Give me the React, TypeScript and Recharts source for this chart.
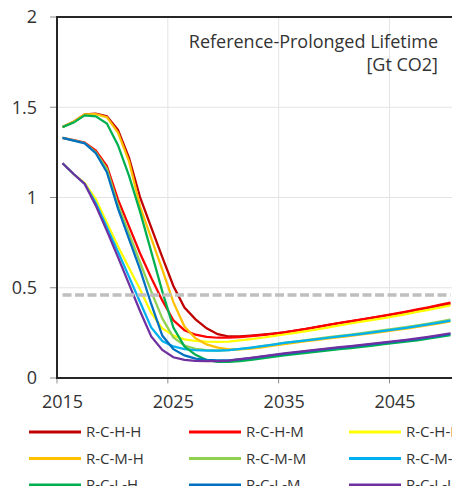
import React from 'react'
import {
  LineChart,
  Line,
  XAxis,
  YAxis,
  CartesianGrid,
  ReferenceLine,
} from 'recharts'

const FONT = '"Open Sans", "Noto Sans", sans-serif'
const INK = '#333333'
const FRAME = '#262626'

const YEARS = Array.from({ length: 36 }, (_, i) => 2015 + i)
const X_TICKS = [2015, 2025, 2035, 2045]
const Y_TICKS = [0, 0.5, 1, 1.5, 2]
// category boundaries (gridlines and tick marks sit between the years)
const X_EDGES = [2014.5, 2024.5, 2034.5, 2044.5]
const X_MIN = 2014.5
const X_MAX = 2050.5
const TARGET = 0.46

// emissions [Gt CO2], 2015..2050
const R_C_H_H = [
  1.39, 1.42, 1.46, 1.465, 1.45, 1.375, 1.22, 1.0, 0.835, 0.67, 0.51, 0.39, 0.325, 0.275, 0.243, 0.23,
  0.231, 0.235, 0.24, 0.246, 0.253, 0.262, 0.272, 0.283, 0.294, 0.304, 0.314, 0.324, 0.334, 0.344, 0.354, 0.365, 0.376, 0.388, 0.4, 0.412,
]
const R_C_H_M = [
  1.33, 1.318, 1.305, 1.26, 1.175, 0.99, 0.84, 0.69, 0.555, 0.43, 0.32, 0.265, 0.24, 0.228, 0.223, 0.224,
  0.227, 0.232, 0.238, 0.245, 0.253, 0.262, 0.272, 0.283, 0.294, 0.305, 0.315, 0.325, 0.335, 0.346, 0.357, 0.368, 0.38, 0.392, 0.405, 0.418,
]
const R_C_H_L = [
  1.19, 1.13, 1.08, 0.99, 0.86, 0.73, 0.61, 0.49, 0.36, 0.275, 0.235, 0.214, 0.205, 0.201, 0.2, 0.202,
  0.208, 0.215, 0.223, 0.232, 0.241, 0.25, 0.26, 0.27, 0.281, 0.292, 0.302, 0.312, 0.322, 0.332, 0.343, 0.354, 0.366, 0.378, 0.39, 0.402,
]
const R_C_M_H = [
  1.39, 1.42, 1.46, 1.462, 1.445, 1.36, 1.2, 0.95, 0.775, 0.6, 0.42, 0.285, 0.22, 0.186, 0.168, 0.158,
  0.158, 0.163, 0.17, 0.179, 0.188, 0.196, 0.204, 0.211, 0.219, 0.226, 0.233, 0.241, 0.249, 0.257, 0.265, 0.274, 0.283, 0.293, 0.303, 0.313,
]
const R_C_M_M = [
  1.33, 1.317, 1.302, 1.25, 1.16, 0.96, 0.8, 0.64, 0.48, 0.33, 0.225, 0.18, 0.162, 0.155, 0.152, 0.154,
  0.16, 0.167, 0.176, 0.185, 0.194, 0.202, 0.21, 0.218, 0.226, 0.234, 0.241, 0.249, 0.257, 0.265, 0.273, 0.282, 0.292, 0.302, 0.313, 0.324,
]
const R_C_M_L = [
  1.19, 1.13, 1.075, 0.97, 0.835, 0.7, 0.56, 0.42, 0.28, 0.205, 0.175, 0.16, 0.154, 0.152, 0.152, 0.155,
  0.161, 0.168, 0.176, 0.185, 0.194, 0.201, 0.208, 0.215, 0.223, 0.23, 0.237, 0.245, 0.253, 0.261, 0.269, 0.278, 0.287, 0.297, 0.307, 0.318,
]
const R_C_L_H = [
  1.39, 1.415, 1.455, 1.45, 1.41, 1.29, 1.12, 0.92, 0.7, 0.48, 0.28, 0.175, 0.128, 0.1, 0.09, 0.089,
  0.094, 0.101, 0.109, 0.117, 0.125, 0.132, 0.139, 0.146, 0.153, 0.16, 0.166, 0.173, 0.18, 0.187, 0.194, 0.201, 0.209, 0.218, 0.228, 0.238,
]
const R_C_L_M = [
  1.33, 1.315, 1.3, 1.245, 1.14, 0.94, 0.77, 0.6, 0.41, 0.235, 0.16, 0.125, 0.107, 0.1, 0.097, 0.097,
  0.103, 0.11, 0.118, 0.126, 0.134, 0.141, 0.148, 0.155, 0.161, 0.168, 0.174, 0.181, 0.188, 0.194, 0.201, 0.208, 0.216, 0.225, 0.234, 0.244,
]
const R_C_L_L = [
  1.19, 1.13, 1.075, 0.955, 0.815, 0.67, 0.52, 0.37, 0.23, 0.155, 0.115, 0.1, 0.095, 0.093, 0.093, 0.096,
  0.104, 0.112, 0.12, 0.128, 0.136, 0.143, 0.15, 0.157, 0.164, 0.171, 0.177, 0.184, 0.191, 0.197, 0.204, 0.211, 0.219, 0.228, 0.238, 0.248,
]

const SERIES = [
  { name: 'R-C-H-H', color: '#C00000', values: R_C_H_H },
  { name: 'R-C-H-M', color: '#FF0000', values: R_C_H_M },
  { name: 'R-C-H-L', color: '#FFFF00', values: R_C_H_L },
  { name: 'R-C-M-H', color: '#FFC000', values: R_C_M_H },
  { name: 'R-C-M-M', color: '#92D050', values: R_C_M_M },
  { name: 'R-C-M-L', color: '#00B0F0', values: R_C_M_L },
  { name: 'R-C-L-H', color: '#00B050', values: R_C_L_H },
  { name: 'R-C-L-M', color: '#0070C0', values: R_C_L_M },
  { name: 'R-C-L-L', color: '#7030A0', values: R_C_L_L },
]

const rows = YEARS.map((year, i) => {
  const row: Record<string, number> = { year }
  SERIES.forEach((s) => {
    row[s.name] = s.values[i]
  })
  return row
})

// plot box inside the 460x448 chart
const PLOT = { left: 57, top: 17, right: 456, bottom: 378 }

const tickStyle = { fontSize: 18, fill: INK, fontFamily: FONT }

// three columns, filled row by row; the right column runs off the edge
function LegendGrid() {
  const colW = 160
  const rowH = 26.5
  return (
    <svg width={460} height={80} style={{ position: 'absolute', left: 0, top: 414 }}>
      {SERIES.map((s, i) => {
        const x = 29 + (i % 3) * colW
        const y = 18 + Math.floor(i / 3) * rowH
        return (
          <g key={s.name}>
            <line x1={x} x2={x + 52} y1={y} y2={y} stroke={s.color} strokeWidth={3} />
            <text x={x + 57} y={y} dy="0.36em" fontFamily={FONT} fontSize={15} fill={INK}>
              {s.name}
            </text>
          </g>
        )
      })}
    </svg>
  )
}

export default function App() {
  return (
    <div
      style={{
        position: 'relative',
        margin: -8,
        width: 460,
        height: 494,
        overflow: 'hidden',
        background: '#fff',
      }}
    >
      <LineChart
        width={460}
        height={448}
        data={rows}
        margin={{ top: PLOT.top, right: 460 - PLOT.right, left: 0, bottom: 0 }}
      >
        <CartesianGrid vertical={false} stroke="#e4e4e4" />
        {X_EDGES.slice(1).map((x) => (
          <ReferenceLine key={`g${x}`} x={x} stroke="#e4e4e4" />
        ))}
        <XAxis
          dataKey="year"
          type="number"
          domain={[X_MIN, X_MAX]}
          ticks={X_TICKS}
          interval={0}
          tick={tickStyle}
          tickLine={false}
          axisLine={{ stroke: FRAME, strokeWidth: 2 }}
          tickSize={6}
          tickMargin={11}
          height={448 - PLOT.bottom}
        />
        <YAxis
          type="number"
          domain={[0, 2]}
          ticks={Y_TICKS}
          interval={0}
          tick={tickStyle}
          tickFormatter={(v) => String(v)}
          tickLine={{ stroke: '#8c8c8c' }}
          axisLine={{ stroke: FRAME, strokeWidth: 2 }}
          tickSize={7}
          tickMargin={13}
          width={PLOT.left}
        />
        {SERIES.map((s) => (
          <Line
            key={s.name}
            dataKey={s.name}
            stroke={s.color}
            strokeWidth={2.25}
            dot={false}
            type="linear"
            isAnimationActive={false}
          />
        ))}
        <ReferenceLine
          segment={[
            { x: YEARS[0], y: TARGET },
            { x: YEARS[YEARS.length - 1], y: TARGET },
          ]}
          stroke="#bfbfbf"
          strokeWidth={3.5}
          strokeDasharray="9 3.5"
        />
        {X_EDGES.map((x) => (
          <ReferenceLine
            key={`t${x}`}
            segment={[
              { x, y: 0 },
              { x, y: -0.03 },
            ]}
            stroke="#8c8c8c"
            ifOverflow="visible"
          />
        ))}
      </LineChart>
      {/* plot frame */}
      <div
        style={{
          position: 'absolute',
          left: PLOT.left - 1,
          top: PLOT.top - 1,
          width: PLOT.right - PLOT.left + 2,
          height: PLOT.bottom - PLOT.top + 2,
          border: `2px solid ${FRAME}`,
          boxSizing: 'border-box',
          pointerEvents: 'none',
        }}
      />
      <div
        style={{
          position: 'absolute',
          top: 30,
          right: 22,
          textAlign: 'right',
          fontFamily: FONT,
          fontSize: 18,
          lineHeight: '23px',
          color: INK,
        }}
      >
        <div>Reference-Prolonged Lifetime</div>
        <div>[Gt CO2]</div>
      </div>
      <LegendGrid />
    </div>
  )
}
